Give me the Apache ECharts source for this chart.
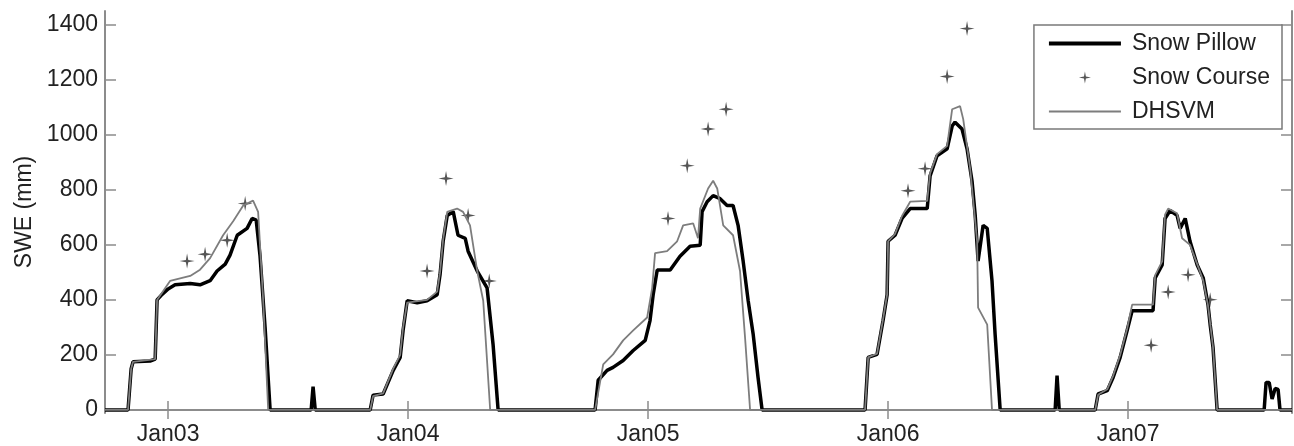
<!DOCTYPE html>
<html>
<head>
<meta charset="utf-8">
<script src="https://cdn.jsdelivr.net/npm/echarts@6/dist/echarts.min.js"></script>
<style>
  html, body { margin: 0; padding: 0; background: #fff; }
  #main { width: 1294px; height: 446px; }
</style>
</head>
<body>
<div id="main"></div>
<script>
var myChart = echarts.init(document.getElementById('main'));

// x values are decimal years (2003.0 = 1 Jan 2003)
var yearTicks = [2003, 2004, 2005, 2006, 2007];
var sweTicks = [0, 200, 400, 600, 800, 1000, 1200, 1400];

var pillowYear = [2002.737, 2002.833, 2002.846, 2002.854, 2002.925, 2002.946, 2002.954, 2002.975, 2003.000, 2003.029, 2003.092, 2003.133, 2003.175, 2003.204, 2003.238, 2003.258, 2003.288, 2003.329, 2003.350, 2003.367, 2003.383, 2003.404, 2003.425,
    2003.596, 2003.604, 2003.613,
    2003.842, 2003.854, 2003.896, 2003.938, 2003.967, 2003.979, 2003.996, 2004.038, 2004.079, 2004.121, 2004.133, 2004.146, 2004.163, 2004.188, 2004.208, 2004.238, 2004.250, 2004.288, 2004.329, 2004.354, 2004.375,
    2004.779, 2004.792, 2004.829, 2004.854, 2004.896, 2004.938, 2004.988, 2005.008, 2005.021, 2005.038, 2005.092, 2005.133, 2005.175, 2005.217, 2005.225, 2005.246, 2005.271, 2005.300, 2005.329, 2005.354, 2005.375, 2005.396, 2005.417, 2005.438, 2005.458, 2005.475,
    2005.904, 2005.917, 2005.954, 2005.979, 2005.996, 2006.000, 2006.029, 2006.058, 2006.092, 2006.163, 2006.175, 2006.204, 2006.246, 2006.267, 2006.279, 2006.308, 2006.329, 2006.350, 2006.363, 2006.375, 2006.396, 2006.413, 2006.433, 2006.446, 2006.467,
    2006.696, 2006.704, 2006.713,
    2006.863, 2006.875, 2006.913, 2006.938, 2006.967, 2006.996, 2007.017, 2007.104, 2007.113, 2007.142, 2007.154, 2007.175, 2007.204, 2007.217, 2007.238, 2007.258, 2007.288, 2007.313, 2007.333, 2007.342, 2007.354, 2007.371,
    2007.567, 2007.575, 2007.588, 2007.600, 2007.613, 2007.625, 2007.633, 2007.683];
var pillowSwe = [0, 0, 150, 175, 178, 185, 400, 420, 440, 455, 460, 455, 470, 505, 530, 563, 635, 660, 696, 690, 560, 300, 0,
    0, 85, 0,
    0, 54, 58, 144, 191, 289, 397, 390, 397, 419, 491, 613, 707, 721, 635, 624, 577, 505, 444, 238, 0,
    0, 108, 144, 155, 180, 216, 253, 325, 419, 509, 509, 559, 595, 599, 721, 757, 779, 768, 743, 743, 671, 541, 397, 274, 119, 0,
    0, 191, 202, 325, 419, 613, 635, 696, 732, 732, 851, 924, 949, 1032, 1046, 1021, 949, 830, 707, 541, 671, 660, 469, 274, 0,
    0, 125, 0,
    0, 58, 70, 119, 191, 289, 361, 361, 480, 527, 696, 725, 707, 660, 696, 613, 527, 480, 383, 310, 227, 0,
    0, 100, 100, 40, 78, 75, 0, 0];

var dhsvmYear = [2002.737, 2002.833, 2002.846, 2002.854, 2002.946, 2002.954, 2003.008, 2003.092, 2003.133, 2003.175, 2003.229, 2003.271, 2003.313, 2003.354, 2003.375, 2003.396, 2003.417,
    2003.842, 2003.854, 2003.896, 2003.938, 2003.967, 2003.979, 2003.996, 2004.079, 2004.121, 2004.133, 2004.146, 2004.163, 2004.204, 2004.229, 2004.258, 2004.288, 2004.313, 2004.342,
    2004.779, 2004.813, 2004.854, 2004.896, 2004.938, 2004.996, 2005.017, 2005.029, 2005.079, 2005.121, 2005.146, 2005.188, 2005.208, 2005.217, 2005.250, 2005.271, 2005.288, 2005.313, 2005.354, 2005.383, 2005.404, 2005.425,
    2005.904, 2005.917, 2005.954, 2005.979, 2005.996, 2006.000, 2006.029, 2006.058, 2006.092, 2006.163, 2006.175, 2006.204, 2006.246, 2006.267, 2006.300, 2006.313, 2006.342, 2006.371, 2006.375, 2006.413, 2006.433,
    2006.863, 2006.875, 2006.913, 2006.938, 2006.967, 2006.996, 2007.017, 2007.104, 2007.113, 2007.142, 2007.154, 2007.167, 2007.204, 2007.225, 2007.258, 2007.288, 2007.313, 2007.333, 2007.354, 2007.371, 2007.683];
var dhsvmSwe = [0, 0, 150, 175, 185, 400, 469, 487, 510, 552, 635, 686, 743, 761, 720, 400, 0,
    0, 50, 60, 150, 200, 300, 390, 400, 430, 500, 620, 720, 732, 720, 671, 505, 397, 0,
    0, 166, 202, 253, 289, 336, 444, 570, 577, 613, 671, 678, 624, 732, 805, 833, 805, 671, 635, 505, 263, 0,
    0, 191, 205, 330, 420, 613, 640, 705, 757, 760, 860, 930, 960, 1093, 1104, 1057, 877, 613, 372, 310, 0,
    0, 55, 75, 125, 200, 295, 383, 383, 490, 540, 710, 732, 715, 624, 600, 530, 470, 380, 227, 0, 0];

var courseYear = [2003.079, 2003.154, 2003.246, 2003.321, 2004.079, 2004.158, 2004.250, 2004.338, 2005.083, 2005.163, 2005.250, 2005.325, 2006.083, 2006.154, 2006.246, 2006.329, 2007.096, 2007.167, 2007.250, 2007.342];
var courseSwe = [541, 566, 617, 750, 505, 841, 707, 469, 696, 888, 1021, 1093, 797, 877, 1212, 1386, 235, 429, 491, 401];

function pairs(xs, ys) {
    return xs.map(function (x, i) { return [x, ys[i]]; });
}

var axisGray = '#8c8c8c';
var textColor = '#222';
var font = '"Liberation Sans", Arial, sans-serif';
var starPath = 'path://M0,-10 L1.6,-1.6 L10,0 L1.6,1.6 L0,10 L-1.6,1.6 L-10,0 L-1.6,-1.6 Z';

var xMin = 2002.737, xMax = 2007.683;
var yMin = -11, yMax = 1450;

var option = {
    animation: false,
    backgroundColor: '#fff',
    textStyle: { fontFamily: font },

    grid: {
        left: 105,
        right: 2,
        top: 11,
        bottom: 30
    },

    legend: {
        data: [
            { name: 'Snow Pillow', icon: 'path://M0,0 L72,0 L72,4 L0,4 Z' },
            { name: 'Snow Course', icon: starPath },
            { name: 'DHSVM', icon: 'path://M0,0 L72,0 L72,2 L0,2 Z' }
        ],
        orient: 'vertical',
        right: 12,
        top: 25,
        itemWidth: 72,
        itemHeight: 12,
        itemGap: 11,
        padding: [7, 12, 6, 15],
        backgroundColor: '#fff',
        borderColor: '#7a7a7a',
        borderWidth: 1.5,
        borderRadius: 0,
        textStyle: {
            fontFamily: font,
            fontSize: 23,
            color: textColor,
            lineHeight: 20,
            padding: [0, 0, 0, 6]
        }
    },

    xAxis: [{
        type: 'value',
        min: xMin,
        max: xMax,
        position: 'bottom',
        axisLine: { lineStyle: { color: axisGray, width: 2 } },
        axisTick: {
            inside: true,
            length: 9,
            customValues: yearTicks,
            lineStyle: { color: axisGray, width: 1.5 }
        },
        axisLabel: {
            customValues: yearTicks,
            margin: 10,
            fontSize: 23,
            fontFamily: font,
            color: textColor,
            formatter: function (v) {
                return 'Jan' + String(Math.round(v)).slice(2);
            }
        },
        splitLine: { show: false }
    }, {
        type: 'value',
        min: xMin,
        max: xMax,
        position: 'top',
        axisLine: { lineStyle: { color: axisGray, width: 2 } },
        axisTick: {
            inside: true,
            length: 9,
            customValues: yearTicks,
            lineStyle: { color: axisGray, width: 1.5 }
        },
        axisLabel: { show: false },
        splitLine: { show: false }
    }],

    yAxis: [{
        type: 'value',
        name: 'SWE (mm)',
        nameLocation: 'middle',
        nameGap: 64,
        nameTextStyle: { fontSize: 23, fontFamily: font, color: textColor },
        min: yMin,
        max: yMax,
        position: 'left',
        axisLine: { show: true, lineStyle: { color: axisGray, width: 2 } },
        axisTick: {
            show: true,
            inside: true,
            length: 11,
            customValues: sweTicks,
            lineStyle: { color: axisGray, width: 1.5 }
        },
        axisLabel: {
            customValues: sweTicks,
            margin: 7,
            fontSize: 23,
            fontFamily: font,
            color: textColor,
            formatter: function (v) { return String(v); }
        },
        splitLine: { show: false }
    }, {
        type: 'value',
        min: yMin,
        max: yMax,
        position: 'right',
        axisLine: { show: true, lineStyle: { color: axisGray, width: 2 } },
        axisTick: {
            show: true,
            inside: true,
            length: 11,
            customValues: sweTicks,
            lineStyle: { color: axisGray, width: 1.5 }
        },
        axisLabel: { show: false },
        splitLine: { show: false }
    }],

    series: [{
        name: 'Snow Pillow',
        type: 'line',
        xAxisIndex: 0,
        yAxisIndex: 0,
        data: pairs(pillowYear, pillowSwe),
        symbol: 'none',
        lineStyle: { color: '#000', width: 3.5 },
        itemStyle: { color: '#000' }
    }, {
        name: 'Snow Course',
        type: 'scatter',
        xAxisIndex: 0,
        yAxisIndex: 0,
        data: pairs(courseYear, courseSwe),
        symbol: starPath,
        symbolSize: 15,
        itemStyle: { color: '#2a2a2a' }
    }, {
        name: 'DHSVM',
        type: 'line',
        xAxisIndex: 0,
        yAxisIndex: 0,
        data: pairs(dhsvmYear, dhsvmSwe),
        symbol: 'none',
        lineStyle: { color: '#7d7d7d', width: 1.8 },
        itemStyle: { color: '#7d7d7d' }
    }]
};

myChart.setOption(option);
</script>
</body>
</html>
